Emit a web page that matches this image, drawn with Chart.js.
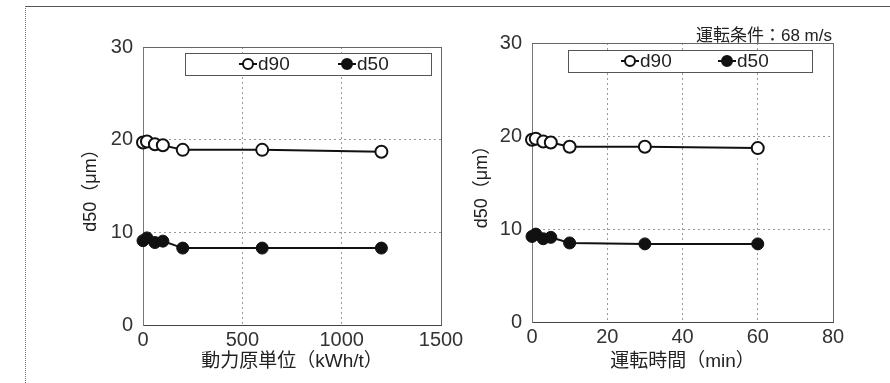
<!DOCTYPE html>
<html>
<head>
<meta charset="utf-8">
<script src="https://cdn.jsdelivr.net/npm/chart.js@4/dist/chart.umd.min.js"></script>
<style>
  body { margin: 0; background: #fff; width: 890px; height: 383px; overflow: hidden; position: relative; }
  .frame { position: absolute; left: 25px; top: 6px; width: 870px; height: 380px; border-top: 1px solid #555; border-left: 1px dotted #777; }
  #leftWrap { position: absolute; left: 0; top: 0; width: 480px; height: 383px; }
  #rightWrap { position: absolute; left: 440px; top: 0; width: 450px; height: 383px; }
  .note { position: absolute; right: 58px; top: 21px; font: 17px "Liberation Sans", "Noto Sans CJK JP", sans-serif; color: #222; }
</style>
</head>
<body>
<div class="frame"></div>
<div id="leftWrap"><canvas id="energyChart" width="480" height="383"></canvas></div>
<div id="rightWrap"><canvas id="timeChart" width="450" height="383"></canvas></div>
<div class="note">運転条件：68 m/s</div>
<script>
// left panel: power consumption per unit
const energyX = [0, 20, 60, 100, 200, 600, 1200];
const energyD90 = [19.7, 19.8, 19.5, 19.4, 18.9, 18.9, 18.7];
const energyD50 = [9.1, 9.4, 8.9, 9.05, 8.3, 8.3, 8.3];

// right panel: running time
const timeX = [0, 1, 3, 5, 10, 30, 60];
const timeD90 = [19.6, 19.7, 19.4, 19.3, 18.85, 18.85, 18.7];
const timeD50 = [9.2, 9.45, 8.95, 9.1, 8.5, 8.4, 8.4];

const seriesNames = ["d90", "d50"];
const yTitle = "d50（μm）";
const energyTitle = "動力原単位（kWh/t）";
const timeTitle = "運転時間（min）";

const FONT = "'Liberation Sans', 'Noto Sans CJK JP', sans-serif";
Chart.defaults.font.family = FONT;
Chart.defaults.color = "#333";

function toPoints(xs, ys) {
    return xs.map((x, i) => ({ x: x, y: ys[i] }));
}

function makeDatasets(xs, d90, d50) {
    return [
        {
            label: seriesNames[0],
            data: toPoints(xs, d90),
            showLine: true,
            clip: false,
            borderColor: "#111",
            borderWidth: 2,
            pointRadius: 6,
            pointBorderWidth: 2,
            pointBackgroundColor: "#fff",
            pointBorderColor: "#111"
        },
        {
            label: seriesNames[1],
            data: toPoints(xs, d50),
            showLine: true,
            clip: false,
            borderColor: "#111",
            borderWidth: 2,
            pointRadius: 6,
            pointBorderWidth: 1,
            pointBackgroundColor: "#111",
            pointBorderColor: "#111"
        }
    ];
}

// boxed legend drawn inside the plot, line + marker style
const legendBox = {
    id: "legendBox",
    afterDatasetsDraw(chart, args, opts) {
        const ctx = chart.ctx;
        ctx.save();
        ctx.fillStyle = "#fff";
        ctx.fillRect(opts.x, opts.y, opts.w, opts.h);
        ctx.strokeStyle = "#555";
        ctx.lineWidth = 1;
        ctx.strokeRect(opts.x + 0.5, opts.y + 0.5, opts.w, opts.h);
        const cy = opts.y + opts.h / 2;
        chart.data.datasets.forEach((ds, i) => {
            const cx = opts.items[i];
            ctx.strokeStyle = "#111";
            ctx.lineWidth = 2;
            ctx.beginPath();
            ctx.moveTo(cx - 9, cy);
            ctx.lineTo(cx + 9, cy);
            ctx.stroke();
            ctx.beginPath();
            ctx.arc(cx, cy, 5, 0, Math.PI * 2);
            ctx.fillStyle = ds.pointBackgroundColor;
            ctx.fill();
            ctx.stroke();
            ctx.fillStyle = "#222";
            ctx.font = "19px " + FONT;
            ctx.textBaseline = "middle";
            ctx.fillText(ds.label, cx + 10, cy + 1);
        });
        ctx.restore();
    }
};

// solid lines on the top and right of the plot
const frameLines = {
    id: "frameLines",
    beforeDatasetsDraw(chart) {
        const a = chart.chartArea;
        const ctx = chart.ctx;
        ctx.save();
        ctx.strokeStyle = "#666";
        ctx.lineWidth = 1;
        ctx.beginPath();
        ctx.moveTo(a.left, a.top + 0.5);
        ctx.lineTo(a.right, a.top + 0.5);
        ctx.moveTo(a.right + 0.5, a.top);
        ctx.lineTo(a.right + 0.5, a.bottom);
        ctx.stroke();
        ctx.restore();
    }
};

function makeOptions(cfg) {
    return {
        responsive: false,
        animation: false,
        layout: { padding: cfg.padding },
        plugins: {
            legend: { display: false },
            tooltip: { enabled: false },
            legendBox: cfg.legend
        },
        scales: {
            x: {
                type: "linear",
                min: 0,
                max: cfg.xMax,
                ticks: { stepSize: cfg.xStep, padding: 3, font: { size: 20 }, color: "#333", callback: (v) => String(v) },
                grid: { color: "#999", drawTicks: false },
                border: { display: true, color: "#444", dash: [2, 3] },
                title: { display: true, text: cfg.xTitle, font: { size: 19 }, color: "#222", padding: 0 },
                afterFit: (scale) => { scale.height = cfg.xHeight; }
            },
            y: {
                min: 0,
                max: 30,
                ticks: { stepSize: 10, padding: 10, font: { size: 20 }, color: "#333" },
                grid: { color: "#999", drawTicks: false },
                border: { display: true, color: "#777", dash: [2, 3] },
                title: { display: true, text: yTitle, font: { size: 18 }, color: "#222", padding: 0 },
                afterFit: (scale) => { scale.width = cfg.yWidth; }
            }
        }
    };
}

new Chart(document.getElementById("energyChart"), {
    type: "scatter",
    data: { datasets: makeDatasets(energyX, energyD90, energyD50) },
    options: makeOptions({
        padding: { left: 80, right: 39, top: 47, bottom: 10 },
        xMax: 1500, xStep: 500, xTitle: energyTitle,
        xHeight: 48, yWidth: 63,
        legend: { x: 185, y: 53, w: 246, h: 22, items: [248, 347] }
    }),
    plugins: [frameLines, legendBox]
});

new Chart(document.getElementById("timeChart"), {
    type: "scatter",
    data: { datasets: makeDatasets(timeX, timeD90, timeD50) },
    options: makeOptions({
        padding: { left: 31, right: 57, top: 43, bottom: 10 },
        xMax: 80, xStep: 20, xTitle: timeTitle,
        xHeight: 51, yWidth: 61,
        legend: { x: 128, y: 50, w: 244, h: 22, items: [190, 287] }
    }),
    plugins: [frameLines, legendBox]
});
</script>
</body>
</html>
